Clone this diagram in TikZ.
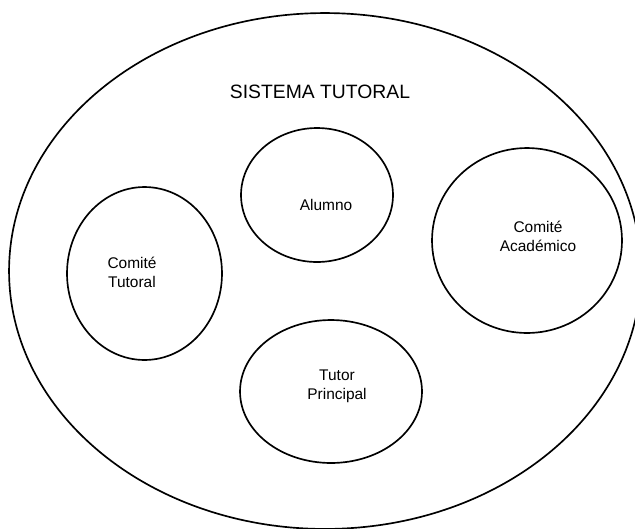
\documentclass[tikz,border=0pt]{standalone}
\usepackage{fontspec}
\setmainfont{Liberation Sans}
\usetikzlibrary{shapes.geometric}

\begin{document}
\begin{tikzpicture}[
  x=0.02cm, y=-0.02cm,
  ring/.style={ellipse, draw, line width=0.95pt, inner sep=0pt},
  lbl/.style={font=\fontsize{8.8}{10.8}\selectfont, align=center},
  head/.style={font=\fontsize{11}{13}\selectfont}
]
  \clip (0,0) rectangle (635,528);

  % sistema completo
  \node[ring, minimum width=12.64cm, minimum height=10.32cm] (sistema) at (325,271) {};
  \node[head] (titulo) at (320,92) {SISTEMA TUTORAL};

  % actores
  \node[ring, minimum width=3.04cm, minimum height=2.68cm] (alumno) at (317,195) {};
  \node[lbl] (alumnoT) at (326,205) {Alumno};

  \node[ring, minimum width=3.1cm, minimum height=3.46cm] (ctutoral) at (144.5,273.5) {};
  \node[lbl] (ctutoralT) at (132,272) {Comité\\Tutoral};

  \node[ring, minimum width=3.8cm, minimum height=3.7cm] (cacad) at (527,240.5) {};
  \node[lbl] (cacadT) at (538,236) {Comité\\Académico};

  \node[ring, minimum width=3.64cm, minimum height=2.86cm] (tutor) at (331,391.5) {};
  \node[lbl] (tutorT) at (337,386) {Tutor\\Principal};
\end{tikzpicture}
\end{document}
